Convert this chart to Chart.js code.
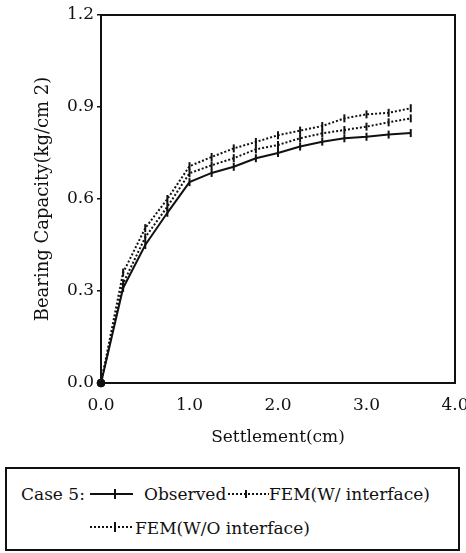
<!DOCTYPE html>
<html>
<head>
<meta charset="utf-8">
<script src="https://cdn.jsdelivr.net/npm/chart.js@4.4.1/dist/chart.umd.min.js"></script>
<style>
  body { margin: 0; background: #fff; width: 466px; height: 553px; overflow: hidden; }
  #wrap { position: absolute; left: 0; top: 0; width: 466px; height: 452px; }
  #legend {
    position: absolute; left: 5px; top: 467px; width: 455px; height: 84px;
    border: 2px solid #111; box-sizing: border-box;
    font-family: "DejaVu Serif", "Liberation Serif", "Noto Serif", serif; font-size: 17px; color: #111;
  }
  .it { position: absolute; white-space: nowrap; line-height: 20px; }
  svg { position: absolute; }
</style>
</head>
<body>
<div id="wrap"><canvas id="chart" width="466" height="452"></canvas></div>
<div id="legend">
  <span class="it" style="left:14px; top:15px;">Case 5:</span>
  <svg style="left:83px; top:19px;" width="44" height="12"><line x1="0" y1="6" x2="43" y2="6" stroke="#111" stroke-width="2"/><line x1="25" y1="1" x2="25" y2="11" stroke="#111" stroke-width="2"/></svg>
  <span class="it" style="left:137px; top:15px;">Observed</span>
  <svg style="left:221px; top:19px;" width="42" height="12"><line x1="0" y1="6" x2="41" y2="6" stroke="#111" stroke-width="2" stroke-dasharray="2,2"/><line x1="18" y1="2" x2="18" y2="10" stroke="#111" stroke-width="2"/></svg>
  <span class="it" style="left:262px; top:15px;">FEM(W/ interface)</span>
  <svg style="left:83px; top:52px;" width="44" height="12"><line x1="0" y1="6" x2="43" y2="6" stroke="#111" stroke-width="2" stroke-dasharray="2,2"/><line x1="25" y1="1" x2="25" y2="11" stroke="#111" stroke-width="2"/></svg>
  <span class="it" style="left:128px; top:49px;">FEM(W/O interface)</span>
</div>
<script>
// settlement (cm)
const settlement = [0, 0.25, 0.5, 0.75, 1.0, 1.25, 1.5, 1.75, 2.0, 2.25, 2.5, 2.75, 3.0, 3.25, 3.5];
// bearing capacity (kg/cm2)
const observed = [0, 0.31, 0.45, 0.555, 0.655, 0.685, 0.705, 0.733, 0.75, 0.771, 0.787, 0.798, 0.803, 0.81, 0.815];
const femWith = [0, 0.325, 0.475, 0.575, 0.684, 0.71, 0.733, 0.762, 0.776, 0.798, 0.814, 0.825, 0.836, 0.85, 0.863];
const femWithout = [0, 0.36, 0.505, 0.60, 0.707, 0.737, 0.765, 0.786, 0.808, 0.823, 0.838, 0.863, 0.876, 0.881, 0.896];
const yTicks = [0, 0.3, 0.6, 0.9, 1.2];
const xTicks = [0, 1, 2, 3, 4];

const pts = arr => arr.map((v, i) => ({ x: settlement[i], y: v }));
const serif = '"DejaVu Serif", "Liberation Serif", "Noto Serif", serif';
const ink = '#111';

function series(label, data, dash) {
  return {
    label,
    data: pts(data),
    borderColor: ink,
    backgroundColor: ink,
    borderWidth: 2,
    borderDash: dash,
    pointStyle: 'line',
    rotation: 90,
    pointRadius: 4,
    pointBorderWidth: 2,
    pointBorderColor: ink,
    tension: 0,
    clip: false
  };
}

new Chart(document.getElementById('chart'), {
  type: 'line',
  data: {
    datasets: [
      series('Observed', observed, []),
      series('FEM(W/ interface)', femWith, [2, 2]),
      series('FEM(W/O interface)', femWithout, [2, 2]),
      {
        label: 'origin',
        data: [{ x: settlement[0], y: observed[0] }],
        pointRadius: 4,
        pointStyle: 'circle',
        backgroundColor: ink,
        borderColor: ink,
        showLine: false,
        clip: false
      }
    ]
  },
  options: {
    responsive: false,
    animation: false,
    layout: { padding: { top: 15, right: 9, left: 29, bottom: 0 } },
    plugins: { legend: { display: false }, tooltip: { enabled: false } },
    scales: {
      x: {
        type: 'linear',
        min: 0, max: 4,
        afterBuildTicks: s => { s.ticks = xTicks.map(v => ({ value: v })); },
        afterFit: s => { s.height = 69; s.paddingRight = 11; s.paddingLeft = 0; },
        grid: { display: false, drawTicks: false },
        border: { display: true, color: ink, width: 2 },
        ticks: {
          color: ink, padding: 12,
          font: { family: serif, size: 17 },
          callback: v => v.toFixed(1)
        },
        title: {
          display: true, text: 'Settlement(cm)', color: ink,
          font: { family: serif, size: 17 }, padding: { top: 1 }
        }
      },
      x2: {
        type: 'linear', position: 'top', min: 0, max: 4,
        grid: { display: false, drawTicks: false },
        border: { display: true, color: ink, width: 2 },
        ticks: { display: false },
        afterFit: s => { s.height = 0; }
      },
      y: {
        min: 0, max: 1.2,
        afterBuildTicks: s => { s.ticks = yTicks.map(v => ({ value: v })); },
        afterFit: s => { s.width = 72; },
        grid: { display: true, drawOnChartArea: false, drawTicks: true, tickLength: 4, color: ink, lineWidth: 1.5 },
        border: { display: true, color: ink, width: 2 },
        ticks: {
          color: ink, padding: 3,
          font: { family: serif, size: 17 },
          callback: v => v.toFixed(1)
        },
        title: {
          display: true, text: 'Bearing Capacity(kg/cm 2)', color: ink,
          font: { family: serif, size: 18 }, padding: { top: 4, bottom: 0 }
        }
      },
      y2: {
        position: 'right', min: 0, max: 1.2,
        grid: { display: false, drawTicks: false },
        border: { display: true, color: ink, width: 2 },
        ticks: { display: false },
        afterFit: s => { s.width = 0; }
      }
    }
  }
});
</script>
</body>
</html>
